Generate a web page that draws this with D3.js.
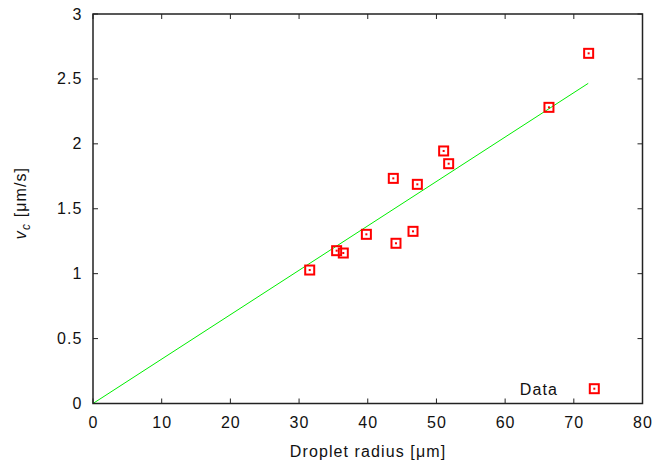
<!DOCTYPE html>
<html>
<head>
<meta charset="utf-8">
<script src="https://cdn.jsdelivr.net/npm/d3@7"></script>
<style>
  html, body { margin: 0; padding: 0; background: #fff; }
  svg { display: block; font-family: "Liberation Sans", Arial, Helvetica, sans-serif; }
  text { letter-spacing: 1.1px; }
</style>
</head>
<body>
<svg id="chart" width="655" height="463"></svg>
<script>
// Measured critical velocity against droplet radius
const radius = [31.55, 35.47, 36.44, 39.8, 43.72, 44.11, 46.59, 47.22, 51.05, 51.78, 66.38, 72.16];
const velocity = [1.028, 1.177, 1.159, 1.303, 1.734, 1.234, 1.326, 1.688, 1.945, 1.847, 2.281, 2.697];

// Linear fit through the origin
const fitX = [0, 72.1];
const fitY = [0, 2.466];

const xTicks = [0, 10, 20, 30, 40, 50, 60, 70, 80];
const yTicks = [0, 0.5, 1, 1.5, 2, 2.5, 3];

const svg = d3.select("#chart");
const plotL = 93, plotR = 642.5, plotT = 14, plotB = 403.5;

const x = d3.scaleLinear().domain([0, 80]).range([plotL, plotR]);
const y = d3.scaleLinear().domain([0, 3]).range([plotB, plotT]);

const axisColor = "#222";
const tickLen = 5;

// Tick marks on all four sides, pointing inward
const tg = svg.append("g").attr("stroke", axisColor).attr("stroke-width", 1);
xTicks.forEach(t => {
  tg.append("line").attr("x1", x(t)).attr("x2", x(t)).attr("y1", plotB).attr("y2", plotB - tickLen);
  tg.append("line").attr("x1", x(t)).attr("x2", x(t)).attr("y1", plotT).attr("y2", plotT + tickLen);
});
yTicks.forEach(t => {
  tg.append("line").attr("x1", plotL).attr("x2", plotL + tickLen).attr("y1", y(t)).attr("y2", y(t));
  tg.append("line").attr("x1", plotR).attr("x2", plotR - tickLen).attr("y1", y(t)).attr("y2", y(t));
});

// Tick labels
const fmt = d3.format("~g");
svg.append("g").selectAll("text").data(xTicks).join("text")
  .attr("x", d => x(d) + 0.5).attr("y", 428)
  .attr("text-anchor", "middle").attr("font-size", 16).attr("fill", "#111")
  .text(d => fmt(d));
svg.append("g").selectAll("text").data(yTicks).join("text")
  .attr("x", 82.5).attr("y", d => y(d) + 5.5)
  .attr("text-anchor", "end").attr("font-size", 16).attr("fill", "#111")
  .text(d => fmt(d));

// Fit line
const line = d3.line().x(d => x(d[0])).y(d => y(d[1]));
svg.append("path")
  .datum(fitX.map((v, i) => [v, fitY[i]]))
  .attr("d", line)
  .attr("fill", "none").attr("stroke", "#00ee00").attr("stroke-width", 1);

// Data markers: open square with a centre dot
function marker(g, cx, cy) {
  g.append("rect").attr("x", cx - 4.5).attr("y", cy - 4.5).attr("width", 9).attr("height", 9)
    .attr("fill", "none").attr("stroke", "#ff0000").attr("stroke-width", 2);
  g.append("rect").attr("x", cx - 1).attr("y", cy - 1).attr("width", 2).attr("height", 2)
    .attr("fill", "#ff0000");
}
const pts = svg.append("g");
radius.forEach((r, i) => marker(pts, x(r), y(velocity[i])));

// Frame
svg.append("rect").attr("x", plotL).attr("y", plotT).attr("width", plotR - plotL).attr("height", plotB - plotT)
  .attr("fill", "none").attr("stroke", axisColor).attr("stroke-width", 1.5);

// Legend
svg.append("text").attr("x", 558).attr("y", 394.5).attr("text-anchor", "end")
  .attr("font-size", 16).attr("fill", "#111").text("Data");
marker(svg.append("g"), 594.3, 388.7);

// Axis titles
svg.append("text").attr("x", 368).attr("y", 456.5).attr("text-anchor", "middle")
  .attr("font-size", 16).attr("fill", "#111").text("Droplet radius [μm]");
const yl = svg.append("text").attr("transform", "translate(25.5,203) rotate(-90)")
  .attr("text-anchor", "middle").attr("font-size", 16).attr("fill", "#111");
yl.append("tspan").attr("font-style", "italic").text("v");
yl.append("tspan").attr("font-style", "italic").attr("font-size", 12).attr("dy", 4).text("c");
yl.append("tspan").attr("dy", -4).text(" [μm/s]");
</script>
</body>
</html>
